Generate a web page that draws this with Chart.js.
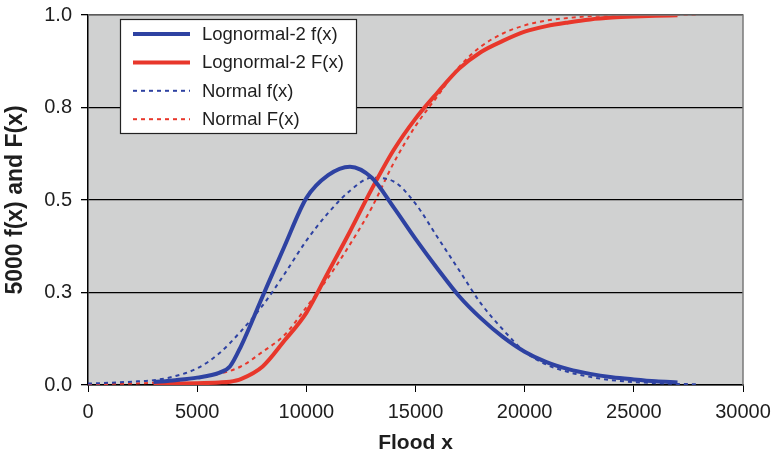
<html><head><title>Flood distribution</title>
<script src="https://cdn.jsdelivr.net/npm/chart.js"></script>
<style>
    body {
        margin: 0;
        background: #fff;
    }
</style>
</head>
<body>
    <canvas id="floodChart" width="775" height="456"></canvas>

    <script>
    // flood values x
    const lognormalX = [3000, 4000, 5000, 6000, 6500, 7000, 8000, 9000, 10000, 11000, 12000, 13000, 14000,
        15000, 16000, 17000, 18000, 19000, 20000, 21000, 22000, 23000, 24000, 25000, 26000, 27000];
    const normalX = [0, 1000, 2000, 3000, 4000, 5000, 6000, 7000, 8000, 9000, 10000, 11000, 12000, 13000, 14000,
        15000, 16000, 17000, 18000, 19000, 20000, 21000, 22000, 23000, 24000, 25000, 26000, 27000, 28000];

    // 5000 f(x) and F(x)
    const lognormalPdf = [0.008, 0.013, 0.02, 0.033, 0.05, 0.104, 0.24, 0.375, 0.505, 0.567, 0.59, 0.56, 0.48,
        0.395, 0.315, 0.24, 0.18, 0.13, 0.09, 0.062, 0.043, 0.03, 0.021, 0.015, 0.01, 0.007];
    const lognormalCdf = [0.003, 0.004, 0.005, 0.007, 0.009, 0.016, 0.05, 0.12, 0.195, 0.305, 0.415, 0.53, 0.635,
        0.72, 0.79, 0.855, 0.9, 0.93, 0.955, 0.97, 0.98, 0.988, 0.993, 0.996, 0.998, 0.999];
    const normalPdf = [0.004, 0.006, 0.009, 0.013, 0.024, 0.045, 0.085, 0.145, 0.215, 0.3, 0.39, 0.465, 0.525, 0.56,
        0.55, 0.49, 0.4, 0.31, 0.22, 0.15, 0.09, 0.055, 0.035, 0.022, 0.013, 0.008, 0.005, 0.003, 0.002];
    const normalCdf = [0.002, 0.003, 0.004, 0.006, 0.01, 0.02, 0.03, 0.05, 0.09, 0.135, 0.21, 0.29, 0.38, 0.48,
        0.6, 0.7, 0.78, 0.86, 0.915, 0.95, 0.972, 0.985, 0.992, 0.997, 0.999, 1, 1, 1, 1];

    const seriesLabels = ['Lognormal-2 f(x)', 'Lognormal-2 F(x)', 'Normal f(x)', 'Normal F(x)'];
    const xTicks = [0, 5000, 10000, 15000, 20000, 25000, 30000];
    const yTicks = [0, 0.25, 0.5, 0.75, 1];

    const blue = '#2e42a2';
    const red = '#e8372b';
    const font = "'Liberation Sans', Arial, sans-serif";

    function points(xs, ys) {
        return xs.map((x, i) => ({ x: x, y: ys[i] }));
    }

    // grey plot area + right/top frame
    const plotArea = {
        id: 'plotArea',
        beforeDraw(chart) {
            const { ctx, chartArea: a } = chart;
            ctx.save();
            ctx.fillStyle = '#d0d1d1';
            ctx.fillRect(a.left, a.top, a.right - a.left, a.bottom - a.top);
            ctx.restore();
        },
        afterDraw(chart) {
            const { ctx, chartArea: a } = chart;
            ctx.save();
            ctx.strokeStyle = '#7a7a7a';
            ctx.lineWidth = 1.5;
            ctx.beginPath();
            ctx.moveTo(a.left, a.top);
            ctx.lineTo(a.right, a.top);
            ctx.lineTo(a.right, a.bottom);
            ctx.stroke();
            ctx.restore();
        }
    };

    // legend box inside the plot
    const boxLegend = {
        id: 'boxLegend',
        afterDatasetsDraw(chart) {
            const ctx = chart.ctx;
            const x0 = 120.5, y0 = 19.5, w = 236, h = 114;
            ctx.save();
            ctx.fillStyle = '#fff';
            ctx.fillRect(x0, y0, w, h);
            ctx.strokeStyle = '#222';
            ctx.lineWidth = 1.2;
            ctx.strokeRect(x0, y0, w, h);
            chart.data.datasets.forEach((ds, i) => {
                const y = 34 + i * 28.4;
                ctx.strokeStyle = ds.borderColor;
                ctx.lineWidth = ds.borderWidth;
                ctx.setLineDash(ds.borderDash || []);
                ctx.beginPath();
                ctx.moveTo(133, y);
                ctx.lineTo(190, y);
                ctx.stroke();
                ctx.setLineDash([]);
                ctx.fillStyle = '#1e1e1e';
                ctx.font = '18.5px ' + font;
                ctx.textBaseline = 'middle';
                ctx.fillText(ds.label, 202, y + 1);
            });
            ctx.restore();
        }
    };

    const ctx = document.getElementById('floodChart').getContext('2d');
    new Chart(ctx, {
        type: 'line',
        data: {
            datasets: [{
                label: seriesLabels[0],
                data: points(lognormalX, lognormalPdf),
                borderColor: blue,
                borderWidth: 4
            }, {
                label: seriesLabels[1],
                data: points(lognormalX, lognormalCdf),
                borderColor: red,
                borderWidth: 4
            }, {
                label: seriesLabels[2],
                data: points(normalX, normalPdf),
                borderColor: blue,
                borderWidth: 2,
                borderDash: [4, 4]
            }, {
                label: seriesLabels[3],
                data: points(normalX, normalCdf),
                borderColor: red,
                borderWidth: 2,
                borderDash: [4, 4]
            }]
        },
        options: {
            responsive: false,
            animation: false,
            events: [],
            layout: {
                padding: { top: 15, right: 32, left: 0, bottom: 0 }
            },
            elements: {
                point: { radius: 0 },
                line: { cubicInterpolationMode: 'monotone', fill: false }
            },
            plugins: {
                legend: { display: false },
                tooltip: { enabled: false }
            },
            scales: {
                x: {
                    type: 'linear',
                    min: 0,
                    max: 30000,
                    afterFit(scale) {
                        scale.height = 71;
                        scale.paddingLeft = 0;
                        scale.paddingRight = 0;
                    },
                    afterBuildTicks(scale) {
                        scale.ticks = xTicks.map(v => ({ value: v }));
                    },
                    grid: {
                        drawOnChartArea: false,
                        color: '#000',
                        tickLength: 7
                    },
                    border: { color: '#000', width: 1.5 },
                    ticks: {
                        autoSkip: false,
                        maxRotation: 0,
                        padding: 8,
                        color: '#1e1e1e',
                        font: { family: font, size: 20 },
                        callback: v => String(v)
                    },
                    title: {
                        display: true,
                        text: 'Flood x',
                        color: '#1e1e1e',
                        padding: { top: 0, bottom: 0 },
                        font: { family: font, size: 21, weight: 'bold' }
                    }
                },
                y: {
                    min: 0,
                    max: 1,
                    afterFit(scale) {
                        scale.width = 88;
                        scale.paddingTop = 0;
                        scale.paddingBottom = 0;
                    },
                    afterBuildTicks(scale) {
                        scale.ticks = yTicks.map(v => ({ value: v }));
                    },
                    grid: {
                        color: '#000',
                        lineWidth: 1.3,
                        tickLength: 7
                    },
                    border: { color: '#000', width: 1.5 },
                    ticks: {
                        autoSkip: false,
                        padding: 9,
                        color: '#1e1e1e',
                        font: { family: font, size: 20 },
                        callback: v => v.toFixed(1)
                    },
                    title: {
                        display: true,
                        text: '5000 f(x) and F(x)',
                        color: '#1e1e1e',
                        padding: { top: 2, bottom: 0 },
                        font: { family: font, size: 23, weight: 'bold' }
                    }
                }
            }
        },
        plugins: [plotArea, boxLegend]
    });
    </script>
</body>
</html>
